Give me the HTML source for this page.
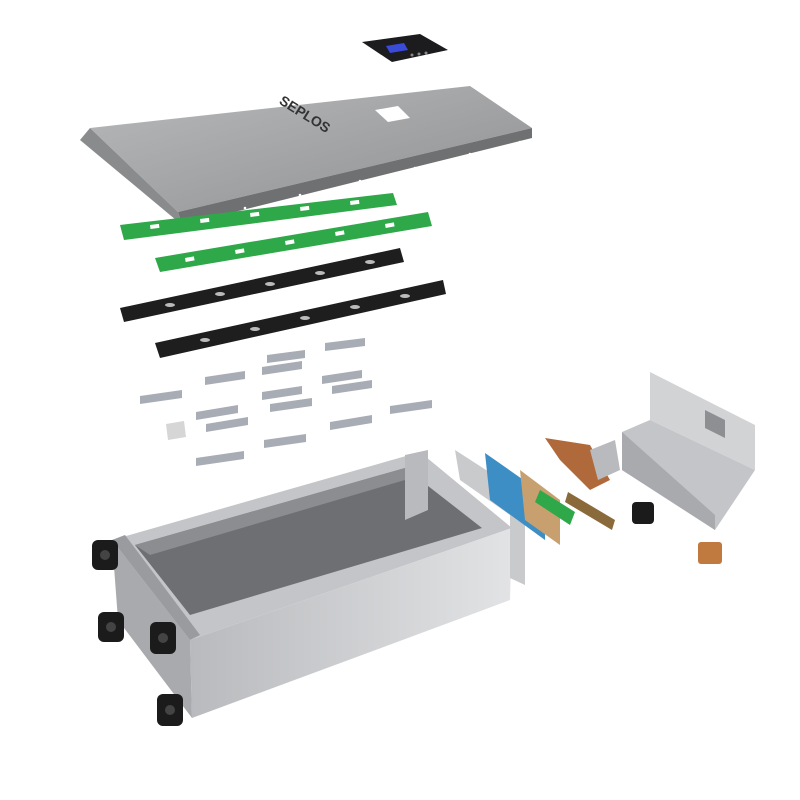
<!DOCTYPE html>
<html><head><meta charset="utf-8"><style>html,body{margin:0;padding:0;background:#fff}svg{display:block}</style></head><body>
<svg width="800" height="800" viewBox="0 0 800 800" xmlns="http://www.w3.org/2000/svg">
<defs>
<linearGradient id="lid" x1="0" y1="0" x2="1" y2="1"><stop offset="0" stop-color="#b8b9bb"/><stop offset="1" stop-color="#8f9092"/></linearGradient>
<linearGradient id="front" x1="0" y1="0" x2="1" y2="0"><stop offset="0" stop-color="#b9babd"/><stop offset="1" stop-color="#e2e3e5"/></linearGradient>
</defs>
<!-- display -->
<polygon points="362,42 420,34 448,50 392,62" fill="#1c1c1e"/>
<polygon points="386,46 404,43 408,50 390,53" fill="#3a4bd8"/>
<g fill="#888"><circle cx="412" cy="55" r="1.5"/><circle cx="419" cy="54" r="1.5"/><circle cx="426" cy="53" r="1.5"/></g>
<!-- lid -->
<polygon points="90,128 470,86 532,128 178,212" fill="url(#lid)"/>
<polygon points="178,212 532,128 532,138 182,225" fill="#6f7072"/>
<polygon points="80,140 90,128 178,212 182,225" fill="#8a8b8d"/>
<polygon points="375,110 398,106 410,118 388,122" fill="#fff"/>
<g fill="#fff"><circle cx="245" cy="208" r="1.3"/><circle cx="300" cy="195" r="1.3"/><circle cx="360" cy="181" r="1.3"/><circle cx="415" cy="168" r="1.3"/><circle cx="470" cy="154" r="1.3"/><circle cx="520" cy="142" r="1.3"/></g>
<text x="270" y="118" font-family="Liberation Sans, sans-serif" font-size="14" font-weight="bold" fill="#333" transform="rotate(32 300 125)">SEPLOS</text>
<!-- green strips -->
<polygon points="120,225 393,193 397,205 124,240" fill="#2fa84a"/>
<polygon points="155,258 428,212 432,226 160,272" fill="#2fa84a"/>
<g fill="#fff">
<rect x="150" y="225" width="9" height="4" transform="rotate(-7 150 225)"/><rect x="200" y="219" width="9" height="4" transform="rotate(-7 200 219)"/><rect x="250" y="213" width="9" height="4" transform="rotate(-7 250 213)"/><rect x="300" y="207" width="9" height="4" transform="rotate(-7 300 207)"/><rect x="350" y="201" width="9" height="4" transform="rotate(-7 350 201)"/>
<rect x="185" y="258" width="9" height="4" transform="rotate(-10 185 258)"/><rect x="235" y="250" width="9" height="4" transform="rotate(-10 235 250)"/><rect x="285" y="241" width="9" height="4" transform="rotate(-10 285 241)"/><rect x="335" y="232" width="9" height="4" transform="rotate(-10 335 232)"/><rect x="385" y="224" width="9" height="4" transform="rotate(-10 385 224)"/>
</g>
<!-- black strips -->
<polygon points="120,308 400,248 404,262 124,322" fill="#1e1e1e"/>
<polygon points="155,343 443,280 446,294 160,358" fill="#1e1e1e"/>
<g fill="#bbb">
<ellipse cx="170" cy="305" rx="5" ry="2"/><ellipse cx="220" cy="294" rx="5" ry="2"/><ellipse cx="270" cy="284" rx="5" ry="2"/><ellipse cx="320" cy="273" rx="5" ry="2"/><ellipse cx="370" cy="262" rx="5" ry="2"/>
<ellipse cx="205" cy="340" rx="5" ry="2"/><ellipse cx="255" cy="329" rx="5" ry="2"/><ellipse cx="305" cy="318" rx="5" ry="2"/><ellipse cx="355" cy="307" rx="5" ry="2"/><ellipse cx="405" cy="296" rx="5" ry="2"/>
</g>
<!-- tabs -->
<g fill="#a8acb5">
<polygon points="267,355 305,350 305,358 267,363"/><polygon points="325,343 365,338 365,346 325,351"/>
<polygon points="205,377 245,371 245,379 205,385"/><polygon points="262,367 302,361 302,369 262,375"/>
<polygon points="322,376 362,370 362,378 322,384"/><polygon points="140,396 182,390 182,398 140,404"/>
<polygon points="262,392 302,386 302,394 262,400"/><polygon points="332,386 372,380 372,388 332,394"/>
<polygon points="196,412 238,405 238,413 196,420"/><polygon points="270,404 312,398 312,406 270,412"/>
<polygon points="390,406 432,400 432,408 390,414"/><polygon points="206,424 248,417 248,425 206,432"/>
<polygon points="330,422 372,415 372,423 330,430"/><polygon points="166,424 184,421 186,437 168,440" fill="#d6d6d6"/>
<polygon points="264,440 306,434 306,442 264,448"/><polygon points="196,458 244,451 244,459 196,466"/>
</g>
<!-- box -->
<polygon points="112,540 420,452 512,528 190,640" fill="#c4c5c8"/>
<polygon points="135,545 405,468 482,528 190,615" fill="#6e6f72"/>
<polygon points="135,545 405,468 405,480 150,555" fill="#8c8d90"/>
<polygon points="190,640 512,528 510,600 478,612 478,612 192,718" fill="url(#front)"/>
<polygon points="112,540 190,640 192,718 118,620" fill="#a9aaad"/>
<polygon points="112,540 125,535 200,635 190,640" fill="#9a9b9e"/>
<polygon points="405,455 428,450 428,510 405,520" fill="#b9babd"/>
<!-- wheels -->
<g fill="#1b1b1b">
<rect x="92" y="540" width="26" height="30" rx="6"/><rect x="98" y="612" width="26" height="30" rx="6"/>
<rect x="150" y="622" width="26" height="32" rx="6"/><rect x="157" y="694" width="26" height="32" rx="6"/>
</g>
<g fill="#444"><circle cx="105" cy="555" r="5"/><circle cx="111" cy="627" r="5"/><circle cx="163" cy="638" r="5"/><circle cx="170" cy="710" r="5"/></g>
<!-- middle parts -->
<polygon points="455,450 525,495 525,585 510,578 510,515 460,480" fill="#c9cacc"/>
<polygon points="485,453 545,495 545,540 490,500" fill="#3d8ec4"/>
<polygon points="520,470 560,500 560,545 525,520" fill="#c8a070"/>
<polygon points="540,490 575,512 570,525 535,502" fill="#2fa84a"/>
<polygon points="545,438 590,445 610,480 590,490 560,460" fill="#b0693a"/>
<polygon points="568,492 615,520 612,530 565,502" fill="#8a6a3a"/>
<polygon points="590,450 615,440 620,470 598,480" fill="#b9babd"/>
<rect x="632" y="502" width="22" height="22" rx="4" fill="#1b1b1b"/>
<rect x="698" y="542" width="24" height="22" rx="3" fill="#c07a40"/>
<!-- bracket -->
<polygon points="650,372 755,425 755,470 650,420" fill="#d2d3d5"/>
<polygon points="622,432 650,420 755,470 715,530 622,470" fill="#c4c5c8"/>
<polygon points="622,432 622,470 715,530 715,515" fill="#a9aaad"/>
<polygon points="705,410 725,420 725,438 705,428" fill="#8e8f92"/>
</svg>
</body></html>
